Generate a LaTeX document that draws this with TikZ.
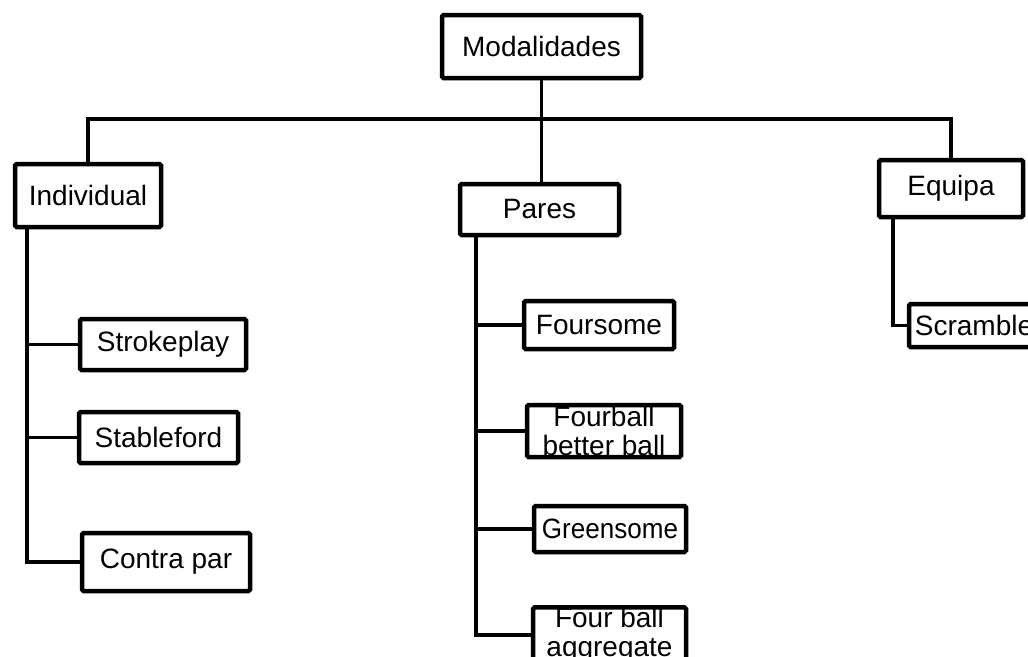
\documentclass[tikz,border=0pt]{standalone}
\usepackage{fontspec}
\setmainfont{Liberation Sans}
\newfontfamily\narrowfont[FakeStretch=0.93]{Liberation Sans}

\begin{document}
\begin{tikzpicture}
	[x=1pt,y=-1pt,
	box/.style={draw,line width=4.5pt,rounded corners=1.5pt,inner sep=0pt,align=center,
		font=\fontsize{28}{29}\selectfont},
	link/.style={line width=3.8pt}]
	\useasboundingbox (0,0) rectangle (1028,656);
	\clip (0,0) rectangle (1028,656);
	% top level
	\node (modal) [box,minimum width=199pt,minimum height=63pt] at (541.5,46.5) {Modalidades};
	\node (indiv) [box,minimum width=146pt,minimum height=63pt] at (88,195.5) {Individual};
	\node (pares) [box,minimum width=159pt,minimum height=51pt] at (539.5,209.5) {Pares};
	\node (equipa) [box,minimum width=144pt,minimum height=57pt] at (951,188.5) {Equipa};
	% individual
	\node (stroke) [box,minimum width=166pt,minimum height=51pt] at (163,344.5) {Strokeplay};
	\node (stable) [box,minimum width=159pt,minimum height=51pt] at (158.5,437.5) {Stableford};
	\node (contra) [box,minimum width=168pt,minimum height=58pt] at (166,562) {Contra par};
	% pares
	\node (foursome) [box,minimum width=150pt,minimum height=48pt] at (599,325) {Foursome};
	\node (fourbb) [box,minimum width=154pt,minimum height=52pt] at (604,431) {Fourball\\better ball};
	\node (green) [box,minimum width=152pt,minimum height=46pt,
		font=\narrowfont\fontsize{28}{29}\selectfont] at (610,529) {Greensome};
	\node (fouragg) [box,minimum width=153pt,minimum height=52pt] at (609.5,635) {Four ball\\aggregate};
	% equipa
	\node (scramble) [box,minimum width=130pt,minimum height=43pt] at (974,325.5) {Scramble};

	\coordinate (bus) at (541.5,119);
	\draw [link] (modal) -- (bus);
	\draw [link] (indiv.north) |- (bus) -| (equipa.north);
	\draw [link] (bus) -- (bus |- pares.north);
	\foreach \n in {stroke,stable,contra}
		\draw [link] ([xshift=14pt]indiv.south west) |- (\n.west);
	\foreach \n in {foursome,fourbb,green,fouragg}
		\draw [link] ([xshift=18pt]pares.south west) |- (\n.west);
	\draw [link] ([xshift=16pt]equipa.south west) |- (scramble.west);
\end{tikzpicture}
\end{document}
